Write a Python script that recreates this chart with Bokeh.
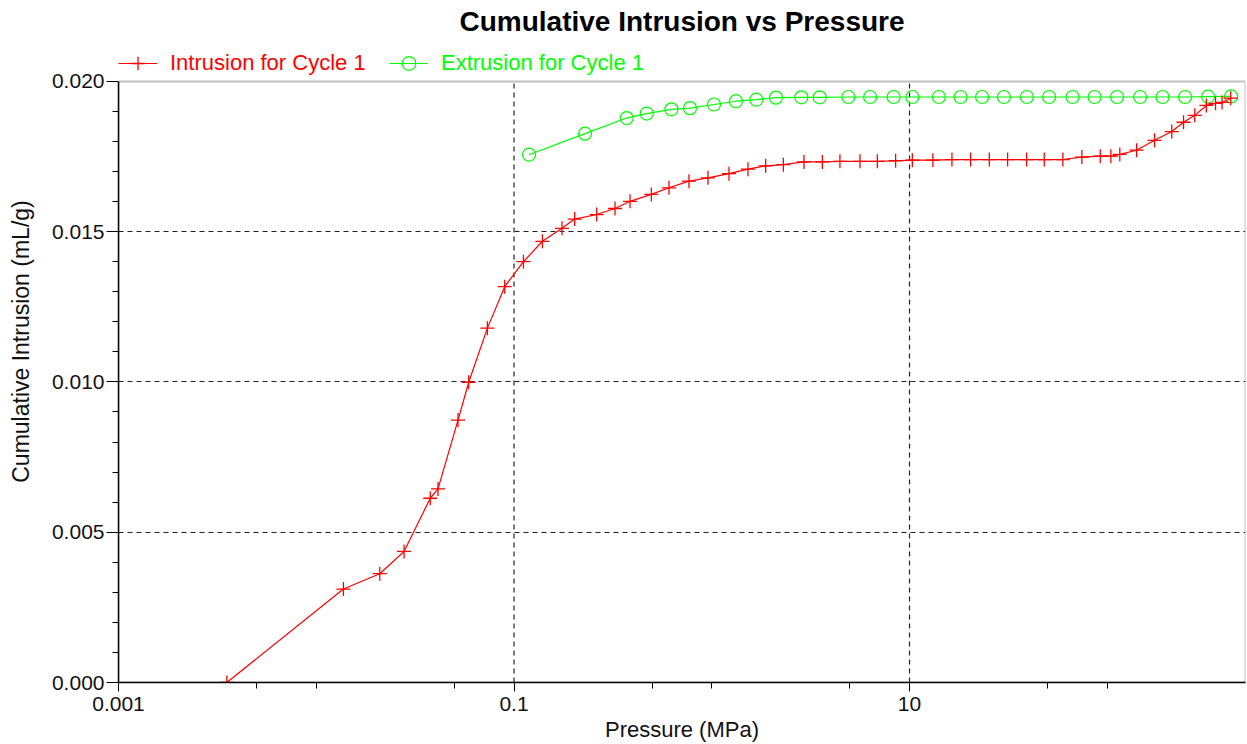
from bokeh.plotting import figure
from bokeh.models import (Range1d, FixedTicker, PrintfTickFormatter, Legend, LegendItem,
                          Label, BoxAnnotation)
from bokeh.embed import file_html
from bokeh.resources import INLINE

# ---- data ----
intrusion_pressure = [0.00353, 0.01372, 0.02095, 0.02779, 0.03771, 0.04127, 0.0521, 0.05902,
                      0.07335, 0.08974, 0.1116, 0.1392, 0.1748, 0.2026, 0.2619, 0.3241, 0.386,
                      0.495, 0.6077, 0.767, 0.9568, 1.222, 1.524, 1.873, 2.301, 2.925, 3.624,
                      4.447, 5.615, 6.875, 8.506, 10.33, 13.13, 16.39, 20.37, 25.32, 31.33,
                      39.08, 48.03, 59.64, 74.38, 92.18, 104.3, 115.7, 140.7, 173.4, 211.9,
                      243.0, 276.9, 316.9, 352.8, 380.5, 421.1]
intrusion_volume = [0.0, 0.00311, 0.00362, 0.00436, 0.00613, 0.00644, 0.00873, 0.00999,
                    0.01179, 0.01317, 0.01400, 0.01468, 0.01511, 0.01542, 0.01557, 0.01577,
                    0.01601, 0.01624, 0.01646, 0.01668, 0.01679, 0.01693, 0.01708, 0.01719,
                    0.01723, 0.01732, 0.01732, 0.01734, 0.01734, 0.01734, 0.01736, 0.01738,
                    0.01738, 0.01740, 0.01740, 0.01740, 0.01740, 0.01740, 0.01740, 0.01740,
                    0.01748, 0.01751, 0.01751, 0.01757, 0.01771, 0.01804, 0.01833, 0.01864,
                    0.01887, 0.01920, 0.01927, 0.01930, 0.01944]

extrusion_pressure = [0.1191, 0.2286, 0.3714, 0.4688, 0.625, 0.7761, 1.026, 1.325, 1.681,
                      2.111, 2.838, 3.512, 4.904, 6.321, 8.31, 10.33, 14.08, 18.13, 23.28,
                      30.0, 39.22, 50.79, 66.78, 86.27, 112.1, 146.5, 190.3, 247.4, 323.3,
                      422.6]
extrusion_volume = [0.01756, 0.01826, 0.01878, 0.01893, 0.01907, 0.01911, 0.01923, 0.01934,
                    0.01939, 0.01946, 0.01947, 0.01947, 0.01948, 0.01948, 0.01948, 0.01948,
                    0.01948, 0.01948, 0.01948, 0.01948, 0.01948, 0.01948, 0.01948, 0.01948,
                    0.01948, 0.01948, 0.01948, 0.01948, 0.01949, 0.01950]

x_major_ticks = [0.001, 0.1, 10]
x_tick_labels = ["0.001", "0.1", "10"]
x_minor_ticks = [0.005, 0.01, 0.05, 0.5, 1, 5, 50, 100]
y_major_ticks = [0.0, 0.005, 0.010, 0.015, 0.020]
y_minor_ticks = [0.001, 0.002, 0.003, 0.004, 0.006, 0.007, 0.008, 0.009,
                 0.011, 0.012, 0.013, 0.014, 0.016, 0.017, 0.018, 0.019]
x_grid_ticks = [0.1, 10]
y_grid_ticks = [0.005, 0.010, 0.015]
X_MIN, X_MAX = 0.001, 500
Y_MIN, Y_TOP = 0.0, 0.020

title_text = "Cumulative Intrusion vs Pressure"
x_label = "Pressure (MPa)"
y_label = "Cumulative Intrusion (mL/g)"
series_names = ["Intrusion for Cycle 1", "Extrusion for Cycle 1"]
RED = "#ff0000"
GREEN = "#00ff00"
FONT = "Liberation Sans"

# layout (pixels): the frame runs from the canvas top down to the x axis;
# the upper HEAD px of it hold the title and legend, the rest is the plot box.
HEAD = 81
PLOT_H = 602
FRAME_H = HEAD + PLOT_H
y_end = Y_TOP * FRAME_H / PLOT_H

p = figure(width=1246, height=744, x_axis_type="log",
           x_range=Range1d(X_MIN, X_MAX), y_range=Range1d(Y_MIN, y_end),
           output_backend="svg", toolbar_location=None, title=None,
           min_border_left=118, min_border_right=1, min_border_top=0,
           min_border_bottom=744 - FRAME_H)
p.background_fill_color = "white"
p.border_fill_color = "white"
p.outline_line_color = None

# axes
p.xaxis.ticker = FixedTicker(ticks=x_major_ticks, minor_ticks=x_minor_ticks)
p.xaxis.major_label_overrides = dict(zip(x_major_ticks, x_tick_labels))
p.yaxis.ticker = FixedTicker(ticks=y_major_ticks, minor_ticks=y_minor_ticks)
p.yaxis.formatter = PrintfTickFormatter(format="%.3f")
p.yaxis.bounds = (Y_MIN, Y_TOP)
for ax in (p.xaxis[0], p.yaxis[0]):
    ax.axis_line_color = "black"
    ax.axis_line_width = 1.5
    ax.major_tick_line_color = "black"
    ax.minor_tick_line_color = "black"
    ax.major_tick_in = 0
    ax.minor_tick_in = 0
    ax.major_label_text_font = FONT
    ax.major_label_text_font_size = "21px"
    ax.major_label_text_color = "#111111"
    ax.axis_label_text_font = FONT
    ax.axis_label_text_font_style = "normal"
    ax.axis_label_text_color = "#111111"
p.xaxis.major_tick_out = 9
p.xaxis.minor_tick_out = 6
p.xaxis.major_label_standoff = 5
p.xaxis.axis_label = x_label
p.xaxis.axis_label_text_font_size = "22px"
p.xaxis.axis_label_standoff = 3
p.yaxis.major_tick_out = 12
p.yaxis.minor_tick_out = 6
p.yaxis.major_label_standoff = 2
p.yaxis.axis_label = y_label
p.yaxis.axis_label_text_font_size = "23px"
p.yaxis.axis_label_standoff = 15

# plot box (top and right edges) and grid
p.add_layout(BoxAnnotation(left=X_MIN, right=X_MAX, bottom=Y_MIN, top=Y_TOP,
                           fill_alpha=0, line_color="#303030", line_width=2))
p.xgrid.visible = False
p.ygrid.ticker = FixedTicker(ticks=y_grid_ticks)
p.ygrid.grid_line_color = "#222222"
p.ygrid.grid_line_dash = "5 4"
p.ygrid.grid_line_width = 1.2
p.segment(x0=x_grid_ticks, y0=[Y_MIN] * len(x_grid_ticks),
          x1=x_grid_ticks, y1=[Y_TOP] * len(x_grid_ticks),
          line_color="#222222", line_dash="5 4", line_width=1.2)

# data
ext_line = p.line(extrusion_pressure, extrusion_volume, line_color=GREEN, line_width=1.2)
ext_pts = p.scatter(extrusion_pressure, extrusion_volume, marker="circle", size=13,
                    fill_color=None, line_color=GREEN, line_width=1.2)
int_line = p.line(intrusion_pressure, intrusion_volume, line_color=RED, line_width=1.2)
int_pts = p.scatter(intrusion_pressure, intrusion_volume, marker="cross", size=14,
                    line_color=RED, line_width=1.3)


# legends (one per series so each label keeps its own colour)
def make_legend(name, renderers, color, x):
    return Legend(items=[LegendItem(label=name, renderers=renderers)],
                  location=(x, FRAME_H - 81), orientation="horizontal",
                  label_text_color=color, label_text_font=FONT,
                  label_text_font_size="22px", glyph_width=39, glyph_height=34,
                  label_height=20, label_standoff=13, padding=0, margin=0, spacing=0,
                  border_line_alpha=0, background_fill_alpha=0)


p.add_layout(make_legend(series_names[0], [int_line, int_pts], RED, 0), "center")
p.add_layout(make_legend(series_names[1], [ext_line, ext_pts], GREEN, 271), "center")

# title
p.add_layout(Label(x=341, y=FRAME_H - 22, x_units="screen", y_units="screen",
                   text=title_text, text_font=FONT, text_font_size="28px",
                   text_font_style="bold", text_color="black",
                   text_baseline="middle", text_align="left"))

open("out.html", "w").write(file_html(p, INLINE))
